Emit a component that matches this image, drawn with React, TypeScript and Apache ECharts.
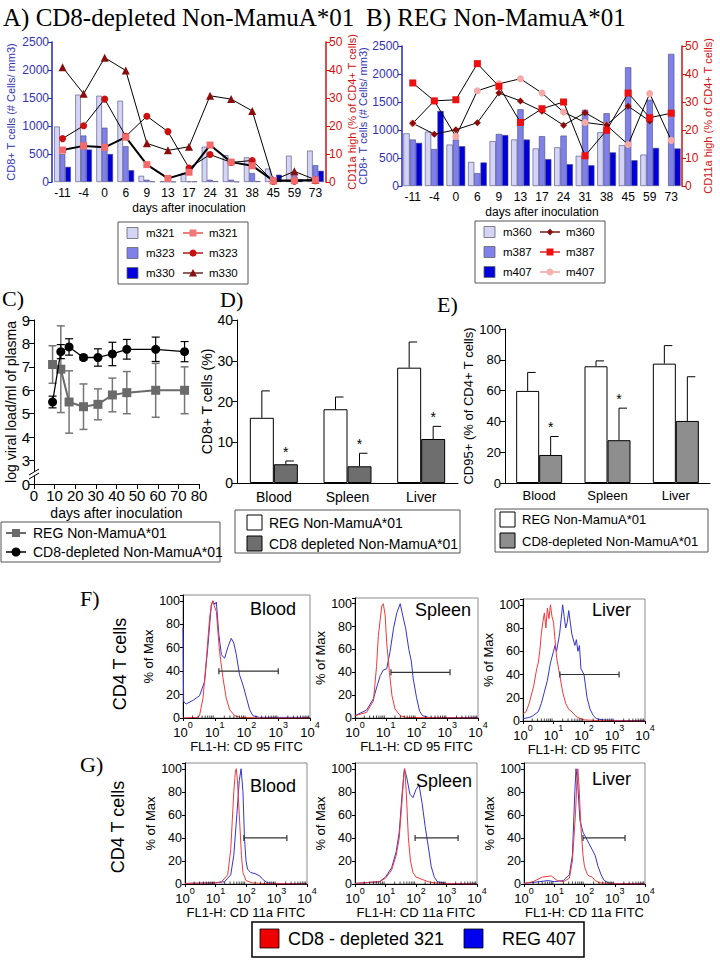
import React, { useEffect, useRef } from "react";
import * as echarts from "echarts";

const SANS = '"Liberation Sans", Arial, Helvetica, sans-serif';
const SERIF = '"Liberation Serif", "Times New Roman", Times, serif';

// ===== Panels A & B : days after inoculation =====
const dayLabels = ["-11", "-4", "0", "6", "9", "13", "17", "24", "31", "38", "45", "59", "73"];
// A) CD8-depleted (CD8+ T cells, #/mm3)
const aM321Bars = [990, 1560, 1540, 1450, 110, 10, 160, 630, 480, 440, 240, 470, 560];
const aM323Bars = [500, 830, 970, 640, 40, 10, 10, 40, 40, 160, 60, 150, 300];
const aM330Bars = [270, 580, 500, 210, 10, 5, 10, 15, 5, 15, 130, 50, 200];
// A) CD11a high (% of CD4+ T cells)
const aM321Line = [11.4, 12.9, 12.4, 16, 6.2, 1.3, 3.5, 13.2, 7.1, 5.8, 0.5, 0.5, 0.7];
const aM323Line = [15.5, 20.1, 29.6, 16.3, 23.5, 18, 5, 9.8, 7, 7.7, 0.3, 0.3, 0.5];
const aM330Line = [41, 31.5, 44.4, 39.8, 13.8, 11.3, 12.6, 30.8, 29.6, 25.4, 0.6, 3.8, 0.8];
// B) REG
const bM360Bars = [940, 970, 740, 430, 800, 830, 670, 690, 540, 960, 730, 560, null];
const bM387Bars = [830, 660, 830, 230, 930, 1370, 890, 900, 1360, 1300, 2120, 1540, 2360];
const bM407Bars = [770, 1340, 710, 420, 910, 830, 480, 390, 370, 600, 460, 680, 670];
const bM360Line = [22.4, 18.5, 20.1, 22.6, 33.2, 30.4, 26.7, 21.7, 26.2, 21.8, 28.5, 23.2, null];
const bM387Line = [36.8, 30.4, 30.8, 43.7, 35.6, 22.7, 27.6, 30, 10.8, 19.9, 33.2, 24.4, 26];
const bM407Line = [22.4, 30.4, 17.7, 34, 36.5, 38.3, 33.2, 26.4, 22.7, 21.7, 14.8, 33, 16.3];

// ===== Panel C : viral load =====
const cDays = [9, 13, 17, 24, 31, 38, 45, 59, 73];
const cRegLoad = [7.1, 6.9, 5.5, 5.3, 5.4, 5.8, 5.9, 6.0, 6.0];
const cRegSd = [0.8, 1.85, 1.33, 0.97, 0.66, 0.72, 0.9, 1.15, 1.0];
const cCd8Load = [5.5, 7.65, 7.85, 7.4, 7.4, 7.55, 7.75, 7.75, 7.65];
const cCd8Sd = [0.25, 0.3, 0.35, 0.1, 0.37, 0.5, 0.42, 0.52, 0.43];

// ===== Panels D & E =====
const tissues = ["Blood", "Spleen", "Liver"];
const dRegPct = [16, 18.1, 28.3];
const dRegErr = [6.6, 3.0, 6.3];
const dCd8Pct = [4.6, 4.1, 10.8];
const dCd8Err = [0.8, 3.2, 3.1];
const dStar = [1, 1, 1];
const eRegPct = [59.8, 75.8, 77.5];
const eRegErr = [12, 3.5, 11.7];
const eCd8Pct = [18.2, 27.8, 40.3];
const eCd8Err = [12, 20.8, 28.7];
const eStar = [1, 1, 0];

// ===== Panels F & G : histograms [log10 decade, % of max] =====
const fBloodReg407 = [[0, 77], [0.02, 14], [0.1, 12], [0.31, 15], [0.52, 19], [0.68, 31], [0.79, 63], [0.89, 96], [0.94, 100], [1.0, 97], [1.05, 99], [1.13, 71], [1.21, 54], [1.31, 51], [1.42, 61], [1.52, 68], [1.6, 64], [1.68, 54], [1.78, 37], [1.89, 28], [2.0, 17], [2.1, 7], [2.2, 2], [2.41, 0.5], [4, 0.5]];
const fBloodCd8321 = [[0, 0], [0.45, 0.5], [0.52, 2], [0.63, 17], [0.73, 48], [0.84, 86], [0.9, 97], [0.94, 100], [0.98, 96], [1.05, 91], [1.15, 57], [1.26, 34], [1.36, 17], [1.47, 7], [1.63, 2], [1.8, 0.5], [2.5, 0], [4, 0]];
const fSpleenReg407 = [[0, 2], [0.38, 7], [0.6, 17], [0.73, 29], [0.82, 37], [0.92, 42], [1.03, 43], [1.14, 58], [1.25, 78], [1.36, 92], [1.47, 100], [1.55, 90], [1.65, 78], [1.75, 60], [1.83, 50], [1.89, 35], [2.0, 18], [2.1, 6], [2.2, 2], [2.4, 0.5], [4, 0.3]];
const fSpleenCd8321 = [[0, 2], [0.38, 5], [0.6, 15], [0.7, 45], [0.76, 72], [0.87, 98], [0.92, 100], [0.98, 90], [1.03, 66], [1.12, 40], [1.2, 20], [1.3, 8], [1.47, 2], [1.68, 0.5], [4, 0]];
const fLiverReg407 = [[0, 2], [0.2, 3], [0.3, 4], [0.5, 8], [0.6, 15], [0.7, 25], [0.8, 35], [0.9, 50], [1.0, 60], [1.05, 65], [1.1, 60], [1.2, 75], [1.3, 100], [1.35, 90], [1.4, 80], [1.45, 85], [1.5, 95], [1.55, 85], [1.6, 75], [1.7, 65], [1.75, 70], [1.8, 60], [1.85, 65], [1.9, 45], [2.0, 40], [2.05, 30], [2.1, 20], [2.2, 10], [2.3, 5], [2.4, 2], [2.6, 1], [3.0, 0.5], [4, 0.3]];
const fLiverCd8321 = [[0, 6], [0.1, 8], [0.2, 15], [0.3, 25], [0.35, 30], [0.45, 45], [0.5, 50], [0.55, 60], [0.6, 75], [0.65, 85], [0.7, 93], [0.75, 80], [0.8, 97], [0.85, 88], [0.9, 100], [0.95, 90], [1.0, 85], [1.05, 70], [1.1, 55], [1.2, 40], [1.3, 25], [1.4, 15], [1.5, 10], [1.6, 8], [1.7, 5], [1.8, 3], [2.0, 1], [2.5, 0.3], [4, 0]];
const gBloodReg407 = [[0, 0.5], [1.0, 1], [1.3, 2], [1.5, 8], [1.6, 25], [1.7, 60], [1.78, 90], [1.84, 100], [1.9, 80], [1.95, 40], [2.0, 20], [2.05, 13], [2.15, 10], [2.3, 9], [2.45, 7], [2.55, 4], [2.7, 1], [3, 0.5], [4, 0.3]];
const gBloodCd8321 = [[0, 0.5], [1.0, 1], [1.2, 2], [1.4, 8], [1.5, 30], [1.55, 55], [1.6, 80], [1.65, 97], [1.68, 100], [1.72, 90], [1.78, 60], [1.85, 25], [1.9, 10], [2.0, 3], [2.2, 1], [2.5, 0.5], [4, 0]];
const gSpleenReg407 = [[0, 0.5], [0.8, 2], [1.0, 6], [1.2, 14], [1.35, 28], [1.45, 45], [1.55, 80], [1.62, 100], [1.7, 92], [1.8, 78], [1.9, 75], [2.0, 82], [2.1, 86], [2.2, 70], [2.3, 50], [2.4, 33], [2.5, 15], [2.6, 6], [2.7, 2], [3, 0.5], [4, 0.3]];
const gSpleenCd8321 = [[0, 0.5], [0.8, 2], [1.0, 5], [1.2, 12], [1.35, 25], [1.45, 40], [1.55, 75], [1.6, 95], [1.63, 100], [1.68, 80], [1.75, 40], [1.82, 20], [1.9, 10], [2.0, 6], [2.2, 4], [2.4, 2], [2.6, 1], [3, 0.3], [4, 0]];
const gLiverReg407 = [[0, 0.5], [0.5, 2], [0.8, 3], [1.0, 2], [1.3, 3], [1.5, 8], [1.6, 25], [1.68, 80], [1.72, 100], [1.78, 85], [1.85, 55], [1.95, 45], [2.05, 40], [2.15, 35], [2.25, 30], [2.35, 25], [2.45, 15], [2.55, 8], [2.65, 3], [2.8, 1], [3, 0.5], [4, 0.3]];
const gLiverCd8321 = [[0, 0.5], [0.3, 2], [0.6, 6], [0.9, 7], [1.1, 3], [1.3, 2], [1.5, 5], [1.6, 20], [1.7, 60], [1.75, 90], [1.78, 100], [1.82, 85], [1.88, 50], [1.95, 25], [2.0, 15], [2.1, 8], [2.15, 7], [2.25, 6], [2.35, 3], [2.5, 1], [3, 0.3], [4, 0]];
const fGates = [[1.13, 3.0], [1.17, 3.09], [1.21, 3.15]];
const gGates = [[1.93, 3.34], [1.97, 3.38], [1.95, 3.34]];
const gateLevel = 40;
const histTissues = ["Blood", "Spleen", "Liver"];

const LIGHT = "#d4d4f6";
const MID = "#8080ea";
const DARK = "#0000dc";
const HRED = "#f03a3a";
const HBLUE = "#3434d0";

function buildOption() {
  const histGrids = [
    { left: 183, top: 595, width: 127, height: 123 },
    { left: 355, top: 598, width: 123, height: 120 },
    { left: 523, top: 599, width: 122, height: 122 },
    { left: 185, top: 763, width: 122, height: 121 },
    { left: 355, top: 763, width: 122, height: 121 },
    { left: 524, top: 763, width: 121, height: 121 },
  ];
  const grid: any[] = [
    { left: 52, top: 42, width: 274, height: 140 },
    { left: 402, top: 46, width: 280, height: 140 },
    { left: 34, top: 320, width: 165, height: 164 },
    { left: 237, top: 320, width: 221, height: 163 },
    { left: 505, top: 329, width: 205, height: 154 },
    ...histGrids.map((g) => ({ ...g, show: true, borderColor: "#8a8a8a", borderWidth: 1 })),
  ];

  const txt = (size: number, color = "#000") => ({ fontSize: size, fontFamily: SANS, color });
  const plain = (v: number) => String(v);

  const BLUEAX = "#2424c4";
  const REDAX = "#d01010";

  const abX = (gi: number) => ({
    type: "category", gridIndex: gi, data: dayLabels,
    axisLine: { show: false }, axisTick: { show: false },
    axisLabel: { ...txt(12), margin: 5, interval: 0 },
    name: "days after inoculation", nameLocation: "middle", nameGap: 20, nameTextStyle: txt(12),
  });
  const abYL = (gi: number, gap: number) => ({
    type: "value", gridIndex: gi, min: 0, max: 2500, interval: 500, position: "left",
    axisLine: { show: true, lineStyle: { color: BLUEAX, width: 1.5 } },
    axisTick: { show: true, length: 4, lineStyle: { color: BLUEAX } },
    splitLine: { show: false },
    axisLabel: { ...txt(12, "#3232b4"), margin: 3, formatter: plain },
    name: "CD8+ T cells (# Cells/ mm3)", nameLocation: "middle", nameRotate: 90, nameGap: gap,
    nameTextStyle: txt(11, "#3232b4"),
  });
  const abYR = (gi: number, gap: number) => ({
    type: "value", gridIndex: gi, min: 0, max: 50, interval: 10, position: "right",
    axisLine: { show: true, lineStyle: { color: REDAX, width: 1.5 } },
    axisTick: { show: true, length: 4, lineStyle: { color: REDAX } },
    splitLine: { show: false },
    axisLabel: { ...txt(12, REDAX), margin: 3, formatter: plain },
    name: "CD11a high (% of CD4+ T cells)", nameLocation: "middle", nameRotate: 90, nameGap: gap,
    nameTextStyle: txt(11, REDAX),
  });

  const blackLine = { show: true, lineStyle: { color: "#000", width: 1 } };
  const xAxis: any[] = [
    abX(0), abX(1),
    {
      type: "value", gridIndex: 2, min: 0, max: 80, interval: 10,
      axisLine: blackLine, axisTick: { show: true, length: 5, lineStyle: { color: "#000" } },
      splitLine: { show: false }, axisLabel: { ...txt(15), margin: 4 },
      name: "days after inoculation", nameLocation: "middle", nameGap: 22, nameTextStyle: txt(14),
    },
    {
      type: "category", gridIndex: 3, data: tissues,
      axisLine: blackLine, axisTick: { show: false },
      axisLabel: { ...txt(14), margin: 7 },
    },
    {
      type: "category", gridIndex: 4, data: tissues,
      axisLine: blackLine, axisTick: { show: false },
      axisLabel: { ...txt(13), margin: 6 },
    },
  ];
  const yAxis: any[] = [
    abYL(0, 36), abYR(0, 16), abYL(1, 31), abYR(1, 19),
    {
      type: "value", gridIndex: 2, min: 2, max: 9, interval: 1,
      axisLine: blackLine, axisTick: { show: true, length: 5, lineStyle: { color: "#000" } },
      splitLine: { show: false },
      axisLabel: { ...txt(15), margin: 4, formatter: (v: number) => (v === 2 ? "0" : String(v)) },
      name: "log viral load/ml of plasma", nameLocation: "middle", nameRotate: 90, nameGap: 14, nameTextStyle: txt(14),
    },
    {
      type: "value", gridIndex: 3, min: 0, max: 40, interval: 10,
      axisLine: blackLine, axisTick: { show: true, length: 5, lineStyle: { color: "#000" } },
      splitLine: { show: false }, axisLabel: { ...txt(14), margin: 4 },
      name: "CD8+ T cells (%)", nameLocation: "middle", nameRotate: 90, nameGap: 20, nameTextStyle: txt(14),
    },
    {
      type: "value", gridIndex: 4, min: 0, max: 100, interval: 20,
      axisLine: blackLine, axisTick: { show: true, length: 5, lineStyle: { color: "#000" } },
      splitLine: { show: false }, axisLabel: { ...txt(13), margin: 4 },
      name: "CD95+ (% of CD4+ T cells)", nameLocation: "middle", nameRotate: 90, nameGap: 28, nameTextStyle: txt(13),
    },
  ];

  const series: any[] = [];
  const barItem = (color: string) => ({ color, borderColor: "#4a4a78", borderWidth: 0.6 });

  // A
  [[aM321Bars, LIGHT], [aM323Bars, MID], [aM330Bars, DARK]].forEach(([d, c]: any) =>
    series.push({ type: "bar", xAxisIndex: 0, yAxisIndex: 0, data: d, itemStyle: barItem(c), barGap: "0%", barCategoryGap: "21%" })
  );
  series.push({ type: "line", xAxisIndex: 0, yAxisIndex: 1, data: aM330Line, symbol: "triangle", symbolSize: 8, itemStyle: { color: "#8b0c0c" }, lineStyle: { color: "#000", width: 1 }, z: 5 });
  series.push({ type: "line", xAxisIndex: 0, yAxisIndex: 1, data: aM323Line, symbol: "circle", symbolSize: 7, itemStyle: { color: "#cc1010" }, lineStyle: { color: "#000", width: 1 }, z: 5 });
  series.push({ type: "line", xAxisIndex: 0, yAxisIndex: 1, data: aM321Line, symbol: "rect", symbolSize: 7, itemStyle: { color: "#f26a6a" }, lineStyle: { color: "#000", width: 2 }, z: 6 });

  // B
  [[bM360Bars, LIGHT], [bM387Bars, MID], [bM407Bars, DARK]].forEach(([d, c]: any) =>
    series.push({ type: "bar", xAxisIndex: 1, yAxisIndex: 2, data: d, itemStyle: barItem(c), barGap: "0%", barCategoryGap: "13%" })
  );
  series.push({ type: "line", xAxisIndex: 1, yAxisIndex: 3, data: bM407Line, symbol: "circle", symbolSize: 7, itemStyle: { color: "#f5aaaa" }, lineStyle: { color: "#000", width: 1 }, z: 5 });
  series.push({ type: "line", xAxisIndex: 1, yAxisIndex: 3, data: bM360Line, symbol: "diamond", symbolSize: 7, itemStyle: { color: "#900a0a" }, lineStyle: { color: "#000", width: 1 }, z: 5 });
  series.push({ type: "line", xAxisIndex: 1, yAxisIndex: 3, data: bM387Line, symbol: "rect", symbolSize: 7, itemStyle: { color: "#ee1010" }, lineStyle: { color: "#000", width: 1 }, z: 6 });

  // C
  const errRender = (color: string, cap: number, lw: number) => (_p: any, api: any) => {
    const x = api.value(0), y = api.value(1), e = api.value(2);
    const p1 = api.coord([x, y + e]);
    const p2 = api.coord([x, y - e]);
    const st = { stroke: color, lineWidth: lw };
    return {
      type: "group", children: [
        { type: "line", shape: { x1: p1[0], y1: p1[1], x2: p2[0], y2: p2[1] }, style: st },
        { type: "line", shape: { x1: p1[0] - cap, y1: p1[1], x2: p1[0] + cap, y2: p1[1] }, style: st },
        { type: "line", shape: { x1: p2[0] - cap, y1: p2[1], x2: p2[0] + cap, y2: p2[1] }, style: st },
      ],
    };
  };
  series.push({ type: "custom", xAxisIndex: 2, yAxisIndex: 4, data: cDays.map((d, i) => [d, cRegLoad[i], cRegSd[i]]), encode: { x: 0, y: 1 }, renderItem: errRender("#767676", 4, 1.5), z: 3 });
  series.push({ type: "custom", xAxisIndex: 2, yAxisIndex: 4, data: cDays.map((d, i) => [d, cCd8Load[i], cCd8Sd[i]]), encode: { x: 0, y: 1 }, renderItem: errRender("#000", 4, 1.2), z: 3 });
  series.push({ type: "line", xAxisIndex: 2, yAxisIndex: 4, data: cDays.map((d, i) => [d, cRegLoad[i]]), symbol: "rect", symbolSize: 9, itemStyle: { color: "#6a6a6a" }, lineStyle: { color: "#6a6a6a", width: 2 }, z: 5 });
  series.push({ type: "line", xAxisIndex: 2, yAxisIndex: 4, data: cDays.map((d, i) => [d, cCd8Load[i]]), symbol: "circle", symbolSize: 9, itemStyle: { color: "#000" }, lineStyle: { color: "#000", width: 1.3 }, z: 6 });

  // D & E
  const barErr = (halfW: number, cap: number) => (_p: any, api: any) => {
    const i = api.value(0), v = api.value(1), e = api.value(2), side = api.value(3), star = api.value(4);
    const b = api.coord([i, v]);
    const t = api.coord([i, v + e]);
    const x = b[0] + side * halfW;
    const st = { stroke: "#000", lineWidth: 1 };
    const ch: any[] = [
      { type: "line", shape: { x1: x, y1: b[1], x2: x, y2: t[1] }, style: st },
      { type: "line", shape: { x1: x, y1: t[1], x2: x + cap, y2: t[1] }, style: st },
    ];
    if (star) ch.push({ type: "text", x, y: t[1] - 9, style: { text: "*", fill: "#000", fontSize: 14, fontFamily: SANS, textAlign: "center", textVerticalAlign: "middle" } });
    return { type: "group", children: ch };
  };
  series.push({ type: "bar", xAxisIndex: 3, yAxisIndex: 5, data: dRegPct, barWidth: 24, barGap: "0%", itemStyle: { color: "#fff", borderColor: "#000", borderWidth: 1 } });
  series.push({ type: "bar", xAxisIndex: 3, yAxisIndex: 5, data: dCd8Pct, barWidth: 24, barGap: "0%", itemStyle: { color: "#6e6e6e", borderColor: "#000", borderWidth: 1 } });
  series.push({ type: "custom", xAxisIndex: 3, yAxisIndex: 5, data: tissues.map((_t, i) => [i, dRegPct[i], dRegErr[i], -1, 0]), encode: { x: 0, y: 1 }, renderItem: barErr(12, 8), z: 4 });
  series.push({ type: "custom", xAxisIndex: 3, yAxisIndex: 5, data: tissues.map((_t, i) => [i, dCd8Pct[i], dCd8Err[i], 1, dStar[i]]), encode: { x: 0, y: 1 }, renderItem: barErr(12, 8), z: 4 });
  series.push({ type: "bar", xAxisIndex: 4, yAxisIndex: 6, data: eRegPct, barWidth: 23, barGap: "0%", itemStyle: { color: "#fff", borderColor: "#000", borderWidth: 1 } });
  series.push({ type: "bar", xAxisIndex: 4, yAxisIndex: 6, data: eCd8Pct, barWidth: 23, barGap: "0%", itemStyle: { color: "#8e8e8e", borderColor: "#000", borderWidth: 1 } });
  series.push({ type: "custom", xAxisIndex: 4, yAxisIndex: 6, data: tissues.map((_t, i) => [i, eRegPct[i], eRegErr[i], -1, 0]), encode: { x: 0, y: 1 }, renderItem: barErr(11.5, 8), z: 4 });
  series.push({ type: "custom", xAxisIndex: 4, yAxisIndex: 6, data: tissues.map((_t, i) => [i, eCd8Pct[i], eCd8Err[i], 1, eStar[i]]), encode: { x: 0, y: 1 }, renderItem: barErr(11.5, 8), z: 4 });

  // F & G histograms
  const hists = [
    [fBloodReg407, fBloodCd8321, fGates[0], "FL1-H: CD 95 FITC"],
    [fSpleenReg407, fSpleenCd8321, fGates[1], "FL1-H: CD 95 FITC"],
    [fLiverReg407, fLiverCd8321, fGates[2], "FL1-H: CD 95 FITC"],
    [gBloodReg407, gBloodCd8321, gGates[0], "FL1-H: CD 11a FITC"],
    [gSpleenReg407, gSpleenCd8321, gGates[1], "FL1-H: CD 11a FITC"],
    [gLiverReg407, gLiverCd8321, gGates[2], "FL1-H: CD 11a FITC"],
  ];
  const gateRender = (_p: any, api: any) => {
    const a = api.coord([api.value(0), api.value(2)]);
    const b = api.coord([api.value(1), api.value(2)]);
    const st = { stroke: "#333", lineWidth: 1.2 };
    return {
      type: "group", children: [
        { type: "line", shape: { x1: a[0], y1: a[1], x2: b[0], y2: b[1] }, style: st },
        { type: "line", shape: { x1: a[0], y1: a[1] - 3, x2: a[0], y2: a[1] + 3 }, style: st },
        { type: "line", shape: { x1: b[0], y1: b[1] - 3, x2: b[0], y2: b[1] + 3 }, style: st },
      ],
    };
  };
  const minorRender = (_p: any, api: any) => {
    const d = api.value(0);
    const ch: any[] = [];
    for (let k = 2; k <= 9; k++) {
      const p = api.coord([d + Math.log10(k), 0]);
      ch.push({ type: "line", shape: { x1: p[0], y1: p[1], x2: p[0], y2: p[1] - 2.5 }, style: { stroke: "#000", lineWidth: 0.7 } });
    }
    return { type: "group", children: ch };
  };
  hists.forEach((h: any, k) => {
    const gi = 5 + k;
    const xi = xAxis.length;
    const yi = yAxis.length;
    xAxis.push({
      type: "value", gridIndex: gi, min: 0, max: 4, interval: 1,
      axisLine: blackLine, axisTick: { show: true, length: 3, lineStyle: { color: "#000" } },
      splitLine: { show: false },
      axisLabel: {
        margin: 2,
        formatter: (v: number) => `{b|10}{s|${v}}`,
        rich: {
          b: { fontSize: 13, fontFamily: SANS, color: "#000", lineHeight: 19, verticalAlign: "bottom" },
          s: { fontSize: 9, fontFamily: SANS, color: "#000", lineHeight: 19, verticalAlign: "top" },
        },
      },
      name: h[3], nameLocation: "middle", nameGap: 21, nameTextStyle: txt(13),
    });
    yAxis.push({
      type: "value", gridIndex: gi, min: 0, max: 105, interval: 20,
      axisLine: blackLine, axisTick: { show: true, length: 3, lineStyle: { color: "#000" } },
      splitLine: { show: false },
      axisLabel: { ...txt(12.5), margin: 3, formatter: (v: number) => (v > 100 ? "" : String(v)) },
      name: "% of Max", nameLocation: "middle", nameRotate: 90, nameGap: 28, nameTextStyle: txt(13),
    });
    series.push({ type: "line", xAxisIndex: xi, yAxisIndex: yi, data: h[0], showSymbol: false, symbol: "none", lineStyle: { color: HBLUE, width: 1 }, z: 3 });
    series.push({ type: "line", xAxisIndex: xi, yAxisIndex: yi, data: h[1], showSymbol: false, symbol: "none", lineStyle: { color: HRED, width: 1 }, z: 4 });
    series.push({ type: "custom", xAxisIndex: xi, yAxisIndex: yi, data: [[h[2][0], h[2][1], gateLevel]], encode: { x: [0, 1], y: 2 }, renderItem: gateRender, z: 5 });
    series.push({ type: "custom", xAxisIndex: xi, yAxisIndex: yi, data: [[0, 0], [1, 0], [2, 0], [3, 0]], encode: { x: 0, y: 1 }, renderItem: minorRender, z: 5, clip: false });
  });

  // ---------- graphic (titles, legends, labels) ----------
  const T = (x: number, y: number, text: string, size: number, opts: any = {}) => ({
    type: "text", x, y, z: 20, rotation: opts.rotation || 0,
    style: {
      text, fontSize: size, fontFamily: opts.family || SANS, fill: opts.fill || "#000",
      textAlign: opts.align || "left", textVerticalAlign: "middle",
    },
  });
  const R = (x: number, y: number, w: number, h: number, fill: string, stroke = "#555", lw = 1) => ({
    type: "rect", z: 15, shape: { x, y, width: w, height: h }, style: { fill, stroke, lineWidth: lw },
  });
  const L = (x1: number, y1: number, x2: number, y2: number, stroke: string, lw = 1) => ({
    type: "line", z: 16, shape: { x1, y1, x2, y2 }, style: { stroke, lineWidth: lw },
  });
  const marker = (kind: string, cx: number, cy: number, fill: string) => {
    if (kind === "rect") return { type: "rect", z: 17, shape: { x: cx - 3.5, y: cy - 3.5, width: 7, height: 7 }, style: { fill } };
    if (kind === "circle") return { type: "circle", z: 17, shape: { cx, cy, r: 3.5 }, style: { fill } };
    if (kind === "triangle") return { type: "polygon", z: 17, shape: { points: [[cx, cy - 4], [cx + 4, cy + 3.5], [cx - 4, cy + 3.5]] }, style: { fill } };
    return { type: "polygon", z: 17, shape: { points: [[cx, cy - 3.5], [cx + 3, cy], [cx, cy + 3.5], [cx - 3, cy]] }, style: { fill } };
  };
  const abLegend = (bx: number, by: number, names: string[], sq: string[], lines: string[], kinds: string[], mk: string[]) => {
    const els: any[] = [R(bx, by, 130, 62, "#fff", "#555", 1)];
    names.forEach((n, i) => {
      const y = by + 11 + i * 20;
      els.push(R(bx + 9, y - 5.5, 11, 11, sq[i], "#666", 0.8));
      els.push(T(bx + 28, y, n, 11.5));
      els.push(L(bx + 65, y, bx + 85, y, lines[i], 1.5));
      els.push(marker(kinds[i], bx + 75, y, mk[i]));
      els.push(T(bx + 91, y, n, 11.5));
    });
    return els;
  };

  const graphic: any[] = [
    T(3, 17, "A) CD8-depleted Non-MamuA*01", 25, { family: SERIF }),
    T(366, 17, "B) REG Non-MamuA*01", 25, { family: SERIF }),
    ...abLegend(118, 222, ["m321", "m323", "m330"], [LIGHT, MID, DARK], ["#e85454", "#b01818", "#6a2a2a"], ["rect", "circle", "triangle"], ["#f07878", "#c81010", "#8b1010"]),
    ...abLegend(475, 221, ["m360", "m387", "m407"], [LIGHT, MID, DARK], ["#7a1a1a", "#e02020", "#f0a0a0"], ["diamond", "rect", "circle"], ["#8b0a0a", "#ee1010", "#f5b0b0"]),
    T(2, 298, "C)", 22, { family: SERIF }),
    T(220, 299, "D)", 22, { family: SERIF }),
    T(437, 304, "E)", 22, { family: SERIF }),
    // C axis break
    { type: "polygon", z: 30, shape: { points: [[29, 479], [39, 473], [39, 469], [29, 475]] }, style: { fill: "#fff" } },
    { ...L(29, 479, 39, 473, "#000", 1), z: 31 },
    { ...L(29, 475, 39, 469, "#000", 1), z: 31 },
    // C legend
    R(1, 522, 219, 40, "#fff", "#555", 1),
    L(6, 533, 26, 533, "#6a6a6a", 2),
    { type: "rect", z: 17, shape: { x: 12, y: 529, width: 8, height: 8 }, style: { fill: "#6a6a6a" } },
    T(33, 533, "REG Non-MamuA*01", 14),
    L(6, 552, 26, 552, "#000", 1.5),
    { type: "circle", z: 17, shape: { cx: 16, cy: 552, r: 4.5 }, style: { fill: "#000" } },
    T(33, 552, "CD8-depleted Non-MamuA*01", 14),
    // D legend
    R(235, 510, 225, 43, "#fff", "#555", 1),
    R(247, 515, 15, 15, "#fff", "#000", 1),
    T(269, 523, "REG Non-MamuA*01", 14),
    R(247, 536, 15, 15, "#6e6e6e", "#000", 1),
    T(269, 544, "CD8 depleted Non-MamuA*01", 14),
    // E legend
    R(495, 509, 213, 43, "#fff", "#555", 1),
    R(500, 512, 15, 15, "#fff", "#000", 1),
    T(522, 519, "REG Non-MamuA*01", 13),
    R(500, 533, 15, 15, "#8e8e8e", "#000", 1),
    T(522, 541, "CD8-depleted Non-MamuA*01", 13),
    // F / G
    T(80, 598, "F)", 22, { family: SERIF }),
    T(80, 764, "G)", 22, { family: SERIF }),
    T(120, 664, "CD4 T cells", 18, { rotation: Math.PI / 2, align: "center" }),
    T(118, 827, "CD4 T cells", 18, { rotation: Math.PI / 2, align: "center" }),
    T(250, 609, histTissues[0], 18),
    T(415, 610, histTissues[1], 18),
    T(592, 610, histTissues[2], 18),
    T(250, 786, histTissues[0], 18),
    T(416, 781, histTissues[1], 18),
    T(592, 779, histTissues[2], 18),
    // bottom legend
    R(252, 922, 332, 35, "#fff", "#000", 1.5),
    R(260, 929, 19, 19, "#ee0000", "#000", 0.8),
    T(288, 939, "CD8 - depleted 321", 18),
    R(464, 929, 19, 19, "#0000ee", "#000", 0.8),
    T(502, 939, "REG 407", 18),
  ];

  return { animation: false, backgroundColor: "#fff", grid, xAxis, yAxis, series, graphic };
}

export default function App() {
  const ref = useRef<HTMLDivElement>(null);
  useEffect(() => {
    if (!ref.current) return;
    const chart = echarts.init(ref.current, null, { renderer: "svg" });
    chart.setOption(buildOption() as any);
    return () => chart.dispose();
  }, []);
  return (
    <div
      ref={ref}
      style={{ position: "absolute", left: 0, top: 0, width: 720, height: 960, background: "#fff" }}
    />
  );
}
